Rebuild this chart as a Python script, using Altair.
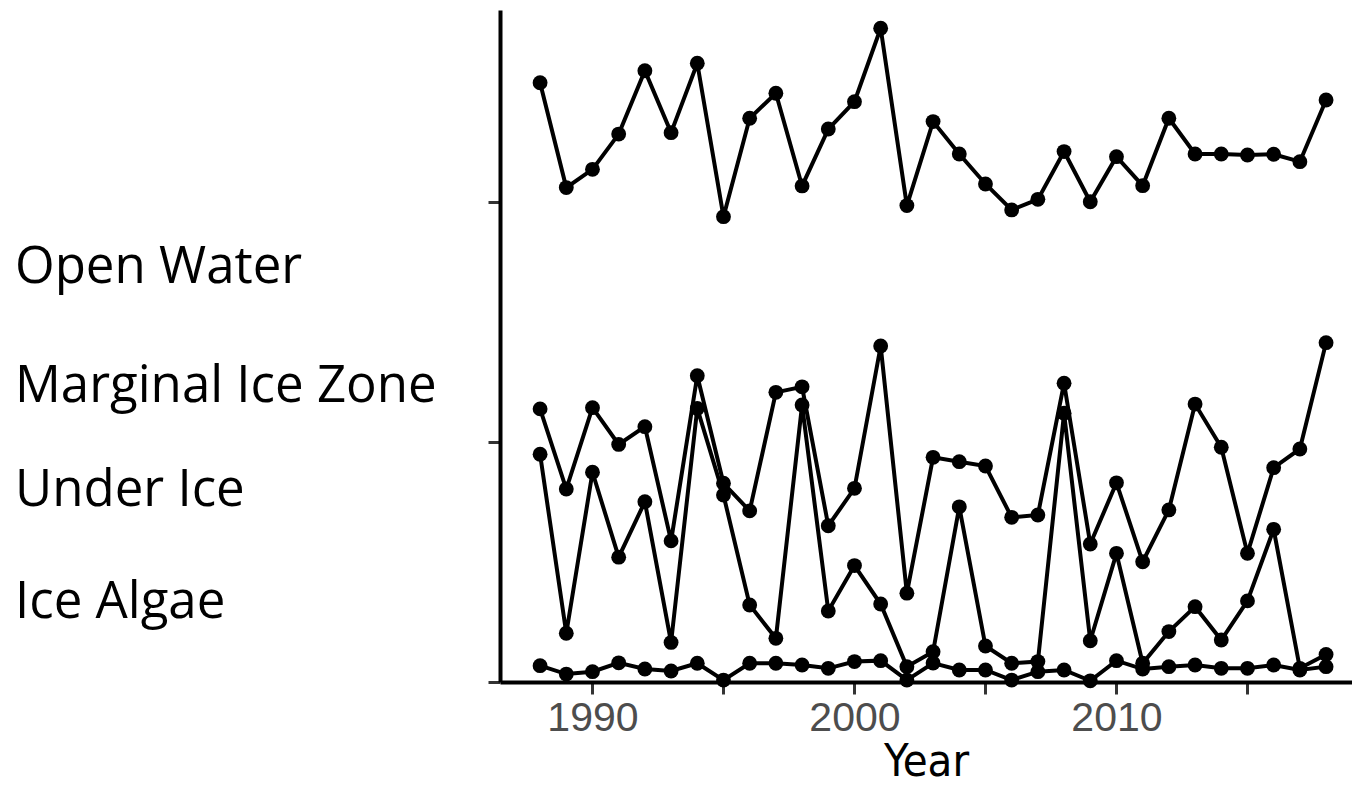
import altair as alt
import pandas as pd

years = list(range(1988, 2019))

open_water = [2.497, 2.060, 2.136, 2.283, 2.547, 2.289, 2.578, 1.939, 2.349, 2.453,
              2.067, 2.304, 2.418, 2.724, 1.985, 2.335, 2.200, 2.075, 1.967, 2.011,
              2.210, 2.001, 2.189, 2.068, 2.349, 2.200, 2.200, 2.196, 2.199, 2.168, 2.425]

marginal_ice_zone = [1.138, 0.804, 1.143, 0.990, 1.064, 0.588, 1.276, 0.828, 0.713, 1.207,
                     1.230, 0.651, 0.807, 1.400, 0.370, 0.936, 0.918, 0.900, 0.686, 0.696,
                     1.245, 0.575, 0.830, 0.501, 0.717, 1.158, 0.978, 0.536, 0.893, 0.971, 1.414]

under_ice = [0.949, 0.203, 0.874, 0.520, 0.751, 0.165, 1.140, 0.779, 0.321, 0.182,
             1.154, 0.296, 0.485, 0.325, 0.064, 0.126, 0.730, 0.150, 0.078, 0.085,
             1.120, 0.172, 0.536, 0.078, 0.210, 0.314, 0.175, 0.338, 0.636, 0.057, 0.115]

ice_algae = [0.068, 0.033, 0.043, 0.080, 0.054, 0.046, 0.078, 0.008, 0.078, 0.078,
             0.071, 0.057, 0.085, 0.089, 0.008, 0.079, 0.050, 0.050, 0.008, 0.043,
             0.050, 0.005, 0.089, 0.054, 0.064, 0.071, 0.057, 0.057, 0.071, 0.050, 0.064]

series_names = ["Open Water", "Marginal Ice Zone", "Under Ice", "Ice Algae"]
series_values = [open_water, marginal_ice_zone, under_ice, ice_algae]

x_ticks = [1990, 1995, 2000, 2005, 2010, 2015]
y_ticks = [0, 1, 2]

rows = []
for name, vals in zip(series_names, series_values):
    for yr, v in zip(years, vals):
        rows.append({"Year": yr, "value": v, "series": name})
df = pd.DataFrame(rows)

x_enc = alt.X("Year:Q",
              scale=alt.Scale(domain=[1986.47, 2018.99], nice=False, zero=False),
              axis=alt.Axis(values=x_ticks, format="d",
                            labelExpr="datum.value % 10 == 0 ? datum.label : ''",
                            grid=False, domainColor="black", domainWidth=4,
                            tickColor="#333333", tickWidth=3, tickSize=12,
                            labelFont="Liberation Sans", labelFontSize=41,
                            labelColor="#4d4d4d", labelPadding=4,
                            title="Year", titleFont="DejaVu Sans Condensed",
                            titleFontSize=45, titleFontWeight="normal", titleColor="black",
                            titlePadding=1))
y_enc = alt.Y("value:Q",
              scale=alt.Scale(domain=[0, 2.8], nice=False),
              axis=alt.Axis(values=y_ticks, labels=False, title=None, grid=False,
                            domainColor="black", domainWidth=4,
                            tickColor="#333333", tickWidth=3, tickSize=12))

base = alt.Chart(df)
lines = base.mark_line(color="black", strokeWidth=4).encode(
    x=x_enc, y=y_enc, detail="series:N", order="Year:Q")
points = base.mark_circle(color="black", opacity=1, size=220).encode(
    x="Year:Q", y="value:Q")

label_pos = {"Open Water": 273, "Marginal Ice Zone": 392, "Under Ice": 496, "Ice Algae": 608}
label_layers = []
for name in series_names:
    label_layers.append(
        alt.Chart(pd.DataFrame({"label": [name]})).mark_text(
            font="Open Sans", fontSize=51, align="left", baseline="alphabetic", color="black"
        ).encode(text="label:N", x=alt.value(-485), y=alt.value(label_pos[name]))
    )

chart = alt.layer(lines, points, *label_layers).properties(
    width=852, height=672,
    background="white",
    autosize=alt.AutoSizeParams(type="none"),
    padding={"left": 492, "top": 2, "right": 0, "bottom": 104},
).configure_view(strokeWidth=0)

chart.save("out.html", embed_options={"renderer": "svg", "actions": False})
